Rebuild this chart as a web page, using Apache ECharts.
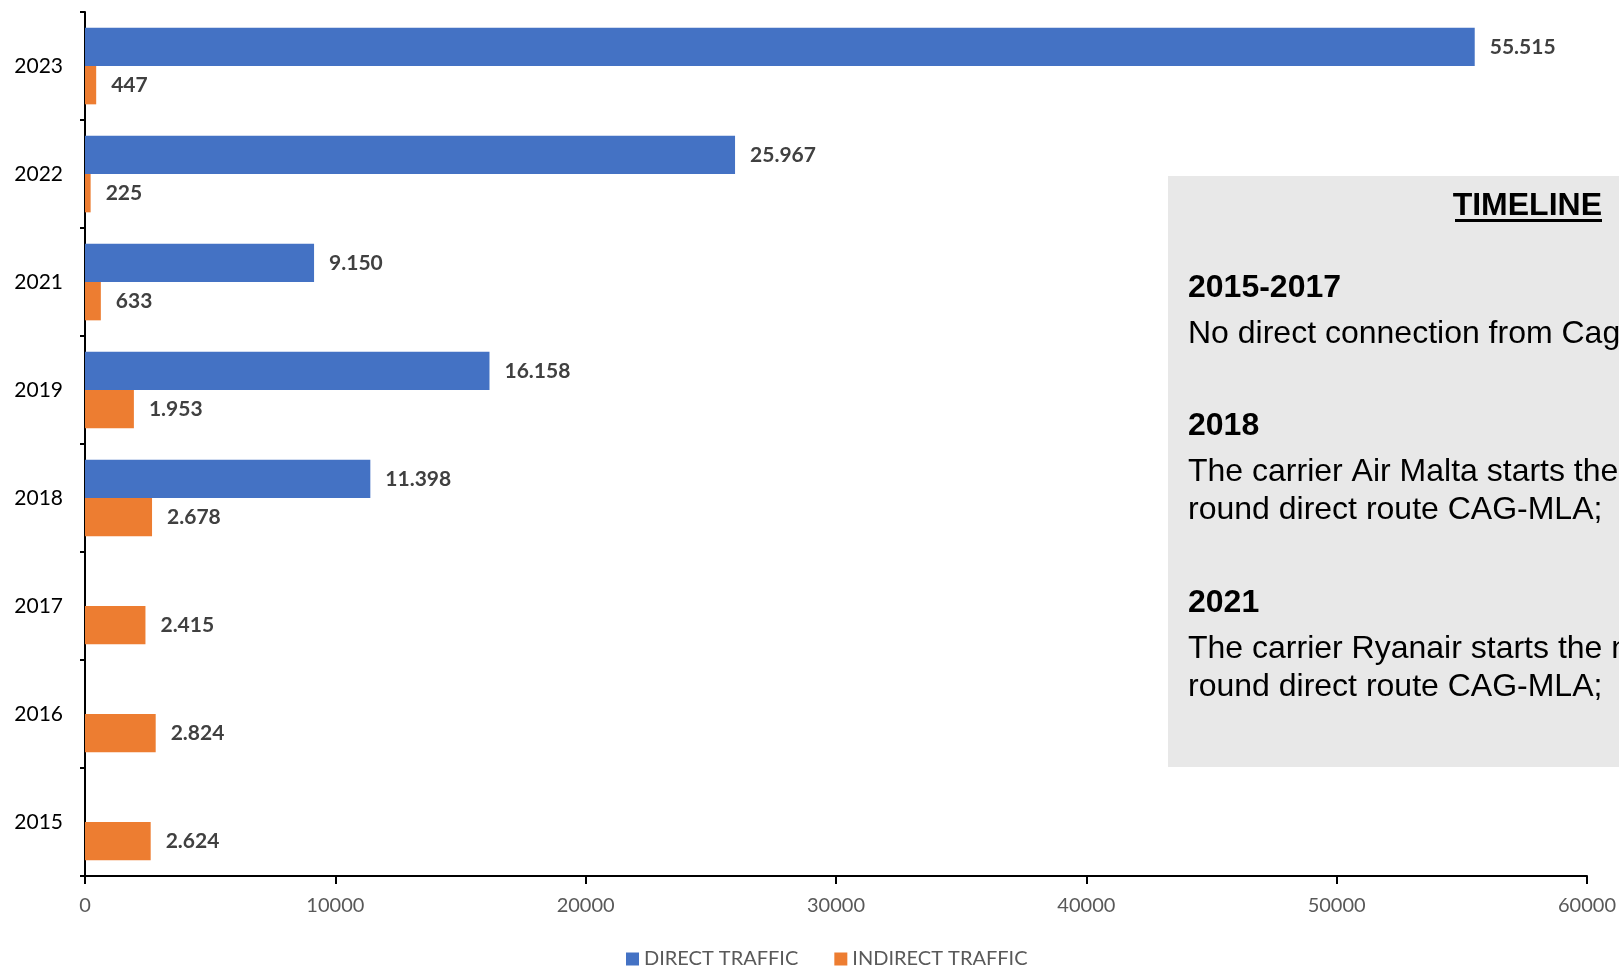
<!DOCTYPE html>
<html><head><meta charset="utf-8">
<script src="https://cdn.jsdelivr.net/npm/echarts@6/dist/echarts.min.js"></script>
<style>html,body{margin:0;padding:0;background:#fff}#c{width:1619px;height:967px}</style>
</head><body><div id="c"></div>
<script>
const years = ['2015','2016','2017','2018','2019','2021','2022','2023'];
const directTraffic = [null, null, null, 11398, 16158, 9150, 25967, 55515];
const indirectTraffic = [2624, 2824, 2415, 2678, 1953, 633, 225, 447];
const xTicks = [0, 10000, 20000, 30000, 40000, 50000, 60000];
const seriesNames = ['DIRECT TRAFFIC', 'INDIRECT TRAFFIC'];
const timelineTitle = 'TIMELINE';
const timelineItems = [
  {head: '2015-2017', lines: ['No direct connection from Cagliari to Malta;']},
  {head: '2018', lines: ['The carrier Air Malta starts the new year-', 'round direct route CAG-MLA;']},
  {head: '2021', lines: ['The carrier Ryanair starts the new year-', 'round direct route CAG-MLA;']}
];

function fmt(v){ return String(Math.round(v)).replace(/\B(?=(\d{3})+(?!\d))/g, '.'); }

const chart = echarts.init(document.getElementById('c'));
const labelFont = {show:true, position:'right', distance:15, fontFamily:'Lato', fontWeight:'bold', fontSize:21, color:'#404040',
  formatter: p => (p.value == null ? '' : fmt(p.value))};

const txt = [];
const boxX = 1168, boxY = 176;
const FONT = '"Liberation Sans", Arial';
txt.push({type:'rect', shape:{x:boxX, y:boxY, width:1619-boxX, height:767-boxY}, style:{fill:'#E8E8E8'}, z:10});
txt.push({type:'text', x:1602, y:206, style:{text:timelineTitle, font:'bold 32px ' + FONT, fill:'#000', textAlign:'right', textVerticalAlign:'middle'}, z:11});
txt.push({type:'rect', shape:{x:1455, y:219, width:147, height:3}, style:{fill:'#000'}, z:11});
const headCenter = [288, 426, 603];
timelineItems.forEach((it, i) => {
  txt.push({type:'text', x:1188, y:headCenter[i], style:{text:it.head, font:'bold 32px ' + FONT, fill:'#000', textVerticalAlign:'middle'}, z:11});
  it.lines.forEach((ln, j) => {
    txt.push({type:'text', x:1188, y:headCenter[i] + 46 + j*38, style:{text:ln, font:'32px ' + FONT, fill:'#000', textVerticalAlign:'middle'}, z:11});
  });
});

chart.setOption({
  animation:false,
  backgroundColor:'#fff',
  grid:{left:85, right:28, top:12, bottom:91, containLabel:false},
  legend:{data:seriesNames, top:949, left:626, padding:0, itemWidth:13, itemHeight:13, itemGap:36, icon:'rect',
    textStyle:{fontFamily:'Lato', fontSize:20, color:'#595959'}},
  xAxis:{type:'value', min:0, max:60000, interval:10000,
    axisLine:{show:true, lineStyle:{color:'#000', width:2}},
    axisTick:{show:true, length:8, lineStyle:{color:'#000', width:2}},
    splitLine:{show:false},
    axisLabel:{fontFamily:'Lato', fontSize:20, color:'#595959', margin:20, formatter: v => String(v)}},
  yAxis:{type:'category', data:years,
    axisLine:{show:true, lineStyle:{color:'#000', width:2}},
    axisTick:{show:true, length:5, lineStyle:{color:'#000', width:2}},
    axisLabel:{fontFamily:'Lato', fontSize:21, color:'#000', margin:22}},
  series:[
    {name:seriesNames[0], type:'bar', data:directTraffic, itemStyle:{color:'#4472C4'}, barGap:'0%', barCategoryGap:'29%', label:labelFont},
    {name:seriesNames[1], type:'bar', data:indirectTraffic, itemStyle:{color:'#ED7D31'}, barGap:'0%', barCategoryGap:'29%', label:labelFont}
  ],
  graphic: txt
});
</script></body></html>
